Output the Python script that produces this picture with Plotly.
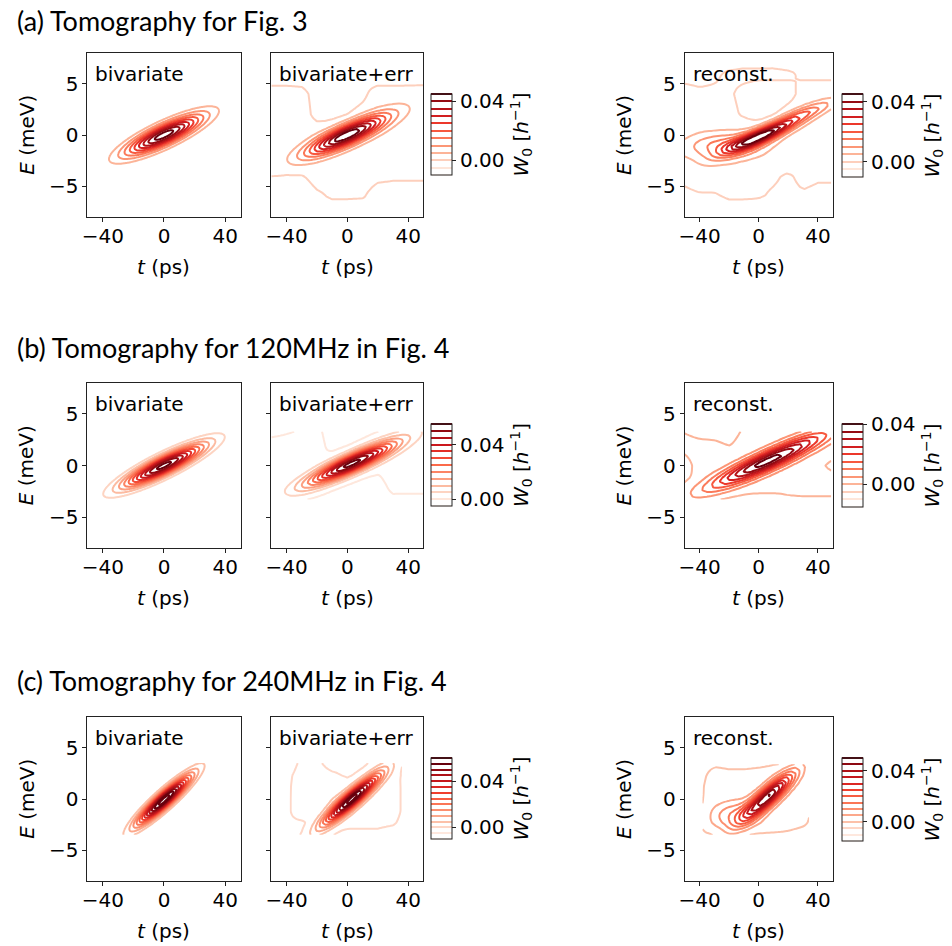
import numpy as np
import plotly.graph_objects as go

FIG_W, FIG_H = 952, 946

# ---------------- data ----------------
ROW_TITLES = ["(a) Tomography for Fig. 3",
              "(b) Tomography for 120MHz in Fig. 4",
              "(c) Tomography for 240MHz in Fig. 4"]
PANEL_LABELS = ["bivariate", "bivariate+err", "reconst."]
X_TICKS = [-40, 0, 40]
Y_TICKS = [-5, 0, 5]
CB_TICKS = [0.0, 0.04]
CB_TICKTEXT = ["0.00", "0.04"]

# data domain of each row (t in ps, E in meV)
T_DOMAIN = [(-50, 50), (-50, 50), (-38, 36)]
E_DOMAIN = [(-8, 8), (-3.3, 3.3), (-3.5, 3.5)]

# Gaussian components: [amplitude (1/h), t0 (ps), E0 (meV), sigma_t (ps), sigma_E (meV), rho]
a_biv = [[0.048, 0, 0, 16.9, 1.32, 0.835]]
a_err = [[0.049, 0, 0, 18.0, 1.35, 0.84]]
a_rec = [[0.046, 3, 0, 16, 1.1, 0.88], [0.014, 32, 2.2, 14, 0.9, 0.85], [0.014, -22, -1.0, 18, 0.8, 0.1]]
b_biv = [[0.057, 0, 0, 18, 1.42, 0.88]]
b_err = [[0.057, 3, 0.2, 20, 1.45, 0.89]]
b_rec = [[0.042, 7, 0.5, 26, 1.8, 0.92]]
c_biv = [[0.063, 0, -0.1, 11.8, 1.6, 0.92]]
c_err = [[0.062, 3, 0, 12.5, 1.65, 0.92]]
c_rec = [[0.050, 6, 0.2, 12, 1.6, 0.88], [0.010, -18, -1.5, 10, 0.9, 0.3]]

# residual (noise) grids in units of 1e-3 /h ; rows from high E to low E
RES_T_AB = [-50, -40, -30, -20, -10, 0, 10, 20, 30, 40, 50]
RES_E_A = [8, 6, 4, 2, 0, -2, -4, -6, -8]
RES_E_B = [3.3, 2.2, 1.1, 0, -1.1, -2.2, -3.3]
RES_T_C = [-38, -30, -20, -10, 0, 10, 20, 30, 36]
RES_E_C = [3.5, 2.3, 1.2, 0, -1.2, -2.3, -3.5]

a_err_res = [
    [-2, -2, -2, -2, -2, -2, -2, -2, -2, -2, -2],
    [-1.5, -1.5, -1.5, -1.5, -1.5, -1.5, -0.5, -1.5, -1.5, -1.5, -1.5],
    [1, 1, 0.8, -1, -1.2, -1, -0.5, 1, 1, 1, 1],
    [1.5, 1.5, 1.2, -0.8, -1, -1, 0.5, 1.5, 1.5, 1.5, 1.5],
    [1.5, 1.5, 1.5, 1.5, 1, 1, 1, 1.5, 1.5, 1.5, 1.5],
    [1, 1, 1, 1, 1, 1, 1, 1, 1, 1, 1],
    [-0.5, -0.8, -0.3, 1, 1, 1, 1, 0.5, 0.3, 0.3, 0.3],
    [-1.5, -1.5, -1.5, -0.5, 0.3, 0.3, 0.2, -1, -1, -1, -1],
    [-2, -2, -2, -2, -2, -2, -2, -2, -2, -2, -2]]
a_rec_res = [
    [-3, -3, -3, -3, -3, -3, -3, -3, -3, -3, -3],
    [-1, -1, -0.5, 0.5, 1, 1, 1, 0.5, -0.5, -0.5, -0.5],
    [1, 0.5, 0.5, 0.5, -1, -2, -2, -1, 1, 1, 1],
    [1, 1.5, 1.5, 1, -0.5, -1.5, -1, 1, 1.5, 1.5, 1.5],
    [2, 3, 3, 3, 3, 2, 2, 2, 2, 2, 2],
    [3, 4, 5, 5, 4, 3, 2, 3, 2, 1.5, 1.5],
    [1, 2, 2, 2, 1.5, 1, 0.5, -0.5, 1, 0.5, 0.5],
    [-1, -0.5, -0.5, 0.5, 0.5, 0.3, -0.5, -1, -0.5, -1, -1],
    [-3, -3, -3, -3, -3, -3, -3, -3, -3, -3, -3]]
b_err_res = [
    [-1, -0.3, 0.3, 0.5, -1, -1, -1, -0.5, 0.5, 1, 1],
    [1, 1, 1, 0.8, -0.8, -1, -0.5, 0.5, 1, 1, 1],
    [1, 1, 1, 0.8, -0.3, -0.3, 0.5, 1, 1, 1, 1],
    [1, 1, 1, 0.5, 0.5, 0.5, 0.5, 0.5, 0.5, 0.5, 0.5],
    [1, 1, 0.5, 0, -0.5, -0.5, -0.5, -0.3, 1, 1, 1],
    [0.5, 0.5, 0.3, -0.5, -1, -1, -1, -1, 0.5, 0.5, 0.5],
    [-1, -1, -1, -1, -1, -1, -1, -1, -0.5, -0.5, -0.5]]
b_rec_res = [
    [-0.2, -1, -1, -1, 0.3, 1, 1, 1, 1, 1, 1],
    [1, 0.5, 0.3, -0.3, 0.8, 1, 1, 1.5, 1.5, 1.5, 1.5],
    [0, 1, 1, 1, 1, 1, 1, 1, 1, 1, 0.5],
    [-1, 1, 1.5, 1.5, 1.5, 1.5, 1, 1, 1, 0.5, -0.5],
    [-1, 1, 2, 2, 1.5, 1, 1, 1, 1, 0.5, 0.5],
    [0.3, 1, 1, 1, 0.8, 0.8, 0.8, 0.5, 0.5, 0.5, 0.5],
    [-1, -1, -1, -1, -1, -1, -1, -0.3, -0.2, -0.2, -0.2]]
c_err_res = [
    [-1, 0.5, 0.5, -1, -1, -0.5, 0.5, -0.5, -1],
    [-0.3, 1, 1, 0.5, -0.3, 0.3, 1, 1, -0.3],
    [-0.2, 1.5, 2, 3, 1, 1, 1, 1, -0.2],
    [-0.2, 2, 2.5, 3, 1, 1, 1, 1, -0.2],
    [-0.2, 2, 1, 1, 1, 1, 1, 1, -0.2],
    [-0.5, -0.5, 0.5, 1, 1, 1, 0.5, 0.3, -0.5],
    [-1, -1, -0.3, -0.2, -1, -1, -0.5, -1, -1]]
c_rec_res = [
    [-1, -0.5, -0.5, -0.5, -0.3, -0.3, -1, -1, -1],
    [-0.5, 1, 0.5, 0.5, 0.5, 1, 1, 0.5, -0.3],
    [-0.2, 1.5, 1, 1, 1, 1, 1, 1, -0.2],
    [-0.2, 2, 2, 2, 1, 1, 1, 1, -0.2],
    [-0.3, 3, 4, 4, 2, 1, 1, 1, -0.2],
    [-0.5, 2, 4, 4, 3, 2, 1, 0.5, -0.5],
    [-1, -1, -0.3, -0.5, -0.5, -0.5, -0.5, -1, -1]]

# contour level ranges (min level, max level) for each colorbar group
LEVELS = [[(-0.010, 0.045), (-0.010, 0.045)],
          [(-0.005, 0.055), (-0.015, 0.040)],
          [(-0.010, 0.060), (-0.015, 0.050)]]
LEVEL_STEP = 0.005

PANELS = [
    [(a_biv, None), (a_err, a_err_res), (a_rec, a_rec_res)],
    [(b_biv, None), (b_err, b_err_res), (b_rec, b_rec_res)],
    [(c_biv, None), (c_err, c_err_res), (c_rec, c_rec_res)],
]
RES_NODES = [(RES_T_AB, RES_E_A), (RES_T_AB, RES_E_B), (RES_T_C, RES_E_C)]

# ---------------- styling / layout ----------------
REDS = [[0.0, '#fff5f0'], [0.125, '#fee0d2'], [0.25, '#fcbba1'], [0.375, '#fc9272'],
        [0.5, '#fb6a4a'], [0.625, '#ef3b2c'], [0.75, '#cb181d'], [0.875, '#a50f15'],
        [1.0, '#67000d']]
FONT = "DejaVu Sans"
TITLE_FONT = "Lato"
COL_X = [(82, 236), (267, 420), (683, 832)]
ROW_Y = [(53, 217), (383, 548), (717, 881)]
CB_X = [428, 841]
CB_Y = [[(94, 175), (94, 177)], [(424, 506), (424, 507)], [(758, 839), (758, 841)]]
TITLE_Y = [20, 347, 680]
GRID_STEP = [(1.0, 0.1), (2.0, 0.2), (3.0, 0.3)]


def fx(px):
    return px / FIG_W


def fy(py):
    return 1 - py / FIG_H


def field(components, res, nodes, tg, Eg):
    T, E = np.meshgrid(tg, Eg)
    Z = np.zeros_like(T)
    for A, t0, E0, st, sE, rho in components:
        u = (T - t0) / st
        v = (E - E0) / sE
        q = (u * u - 2 * rho * u * v + v * v) / (1 - rho * rho)
        Z += A * np.exp(-0.5 * q)
    if res is not None:
        tn, En = nodes
        R = np.asarray(res, dtype=float)[::-1] * 1e-3
        En = np.asarray(En, dtype=float)[::-1]
        tmp = np.array([np.interp(tg, tn, row) for row in R])
        up = np.array([np.interp(Eg, En, tmp[:, j]) for j in range(len(tg))]).T
        Z += up
    return Z


fig = go.Figure()
layout = {}
annotations = []
k = 0
for r in range(3):
    for c in range(3):
        k += 1
        comps, res = PANELS[r][c]
        dt, dE = GRID_STEP[c]
        t0, t1 = T_DOMAIN[r]
        e0, e1 = E_DOMAIN[r]
        tg = np.arange(t0, t1 + 1e-9, dt)
        Eg = np.arange(e0, e1 + 1e-9, dE)
        Z = field(comps, res, RES_NODES[r], tg, Eg)
        grp = 0 if c < 2 else 1
        lo, hi = LEVELS[r][grp]
        show = (c == 1) or (c == 2)
        cbx = CB_X[grp]
        cy0, cy1 = CB_Y[r][grp]
        fig.add_trace(go.Contour(
            x=tg, y=Eg, z=Z, xaxis=f"x{k}", yaxis=f"y{k}",
            colorscale=REDS, zmin=lo, zmax=hi, zauto=False, autocontour=False,
            contours=dict(start=lo, end=hi + 1e-9, size=LEVEL_STEP, coloring='lines'),
            line=dict(width=2, smoothing=0.8 if c == 0 else 0.3),
            showscale=show, hoverinfo='skip',
            colorbar=dict(x=fx(cbx), xanchor='left', xpad=0,
                          y=fy((cy0 + cy1) / 2), yanchor='middle', ypad=0,
                          len=cy1 - cy0, lenmode='pixels', thickness=21, thicknessmode='pixels',
                          outlinewidth=1, outlinecolor='#222',
                          tickvals=CB_TICKS, ticktext=CB_TICKTEXT, ticks='outside', ticklen=4,
                          tickcolor='#222',
                          tickfont=dict(size=20, family=FONT, color='black'),
                          title=dict(text='<i>W</i><sub>0</sub> [<i>h</i><sup>−1</sup>]', side='right',
                                     font=dict(size=20, family=FONT, color='black')))
        ))
        xa = dict(domain=[fx(COL_X[c][0]), fx(COL_X[c][1])], range=[-50, 50], anchor=f"y{k}",
                  tickvals=X_TICKS, ticks='outside', ticklen=4, tickcolor='#222',
                  ticklabelstandoff=-3,
                  showline=True, mirror=True, linecolor='#222', linewidth=1, showgrid=False,
                  zeroline=False, tickfont=dict(size=20, family=FONT, color='black'))
        ya = dict(domain=[fy(ROW_Y[r][1]), fy(ROW_Y[r][0])], range=[-8, 8], anchor=f"x{k}",
                  tickvals=Y_TICKS, ticks='outside', ticklen=4, tickcolor='#222',
                  showline=True, mirror=True, linecolor='#222', linewidth=1, showgrid=False,
                  zeroline=False, showticklabels=(c != 1),
                  tickfont=dict(size=20, family=FONT, color='black'))
        layout[f"xaxis{k}"] = xa
        layout[f"yaxis{k}"] = ya
        # panel label
        annotations.append(dict(text=PANEL_LABELS[c], x=fx(COL_X[c][0] + 6), y=fy(ROW_Y[r][0] + 21),
                                xref='paper', yref='paper', xanchor='left', yanchor='middle',
                                showarrow=False, font=dict(size=20, family=FONT, color='black')))
        # x-axis title
        annotations.append(dict(text='<i>t</i> (ps)', x=fx((COL_X[c][0] + COL_X[c][1]) / 2),
                                y=fy(ROW_Y[r][1] + 50), xref='paper', yref='paper',
                                xanchor='center', yanchor='middle', showarrow=False,
                                font=dict(size=20, family=FONT, color='black')))
        if c != 1:
            annotations.append(dict(text='<i>E</i> (meV)', x=fx(COL_X[c][0] - 61),
                                    y=fy((ROW_Y[r][0] + ROW_Y[r][1]) / 2), xref='paper', yref='paper',
                                    xanchor='center', yanchor='middle', textangle=-90, showarrow=False,
                                    font=dict(size=20, family=FONT, color='black')))
    annotations.append(dict(text=ROW_TITLES[r], x=fx(9), y=fy(TITLE_Y[r]), xref='paper', yref='paper',
                            xanchor='left', yanchor='middle', showarrow=False,
                            font=dict(size=27, family=TITLE_FONT, color='black')))

fig.update_layout(width=FIG_W, height=FIG_H, margin=dict(l=0, r=0, t=0, b=0),
                  paper_bgcolor='white', plot_bgcolor='white', showlegend=False,
                  annotations=annotations, **layout)
fig.write_html("out.html")
